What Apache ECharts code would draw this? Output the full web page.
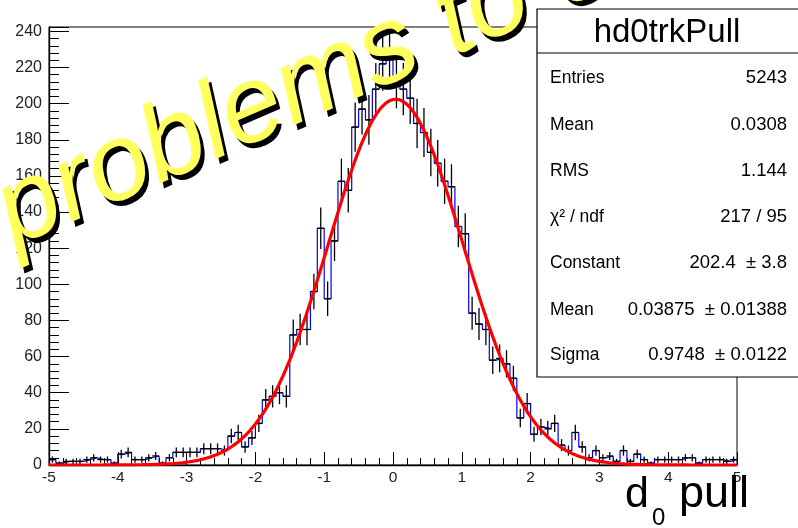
<!DOCTYPE html>
<html><head><meta charset="utf-8">
<script src="https://cdn.jsdelivr.net/npm/echarts@6/dist/echarts.min.js"></script>
<style>html,body{margin:0;padding:0;background:#fff}#c{width:798px;height:528px}</style>
</head><body><div id="c"></div>
<script>
// ---- data ----
const xMin = -5, xMax = 5, binWidth = 0.1;
const counts = [
  3,1,2,2,2,3,4,3,3,1,
  6,7,3,3,4,5,1,4,7,7,
  7,7,9,9,9,8,16,18,10,15,
  23,36,38,40,38,72,75,75,96,131,
  92,124,157,152,187,197,191,208,222,226,
  212,208,203,189,184,173,167,157,154,132,
  128,84,78,75,58,59,56,48,26,34,
  17,21,20,23,11,8,18,10,4,8,
  4,5,2,8,2,6,3,1,3,3,
  3,3,4,4,1,3,3,3,2,3
];
const xTickLabels = [-5,-4,-3,-2,-1,0,1,2,3,4,5];
const yTickLabels = [0,20,40,60,80,100,120,140,160,180,200,220,240];
const yMax = 242.4;
const fitConstant = 202.4, fitMean = 0.03875, fitSigma = 0.9748;
const statsTitle = 'hd0trkPull';
const statsLabels = ['Entries','Mean','RMS','\u03C7\u00B2 / ndf','Constant','Mean','Sigma'];
const statsValues = ['5243','0.0308','1.144','217 / 95','202.4  \u00B1 3.8','0.03875  \u00B1 0.01388','0.9748  \u00B1 0.0122'];
const axisTitleMain = 'd', axisTitleSub = '0', axisTitleRest = 'pull';
const watermark = 'problems to c';

// ---- build ----
const stepData = [];
const barData = [];
counts.forEach((c, i) => {
  const lo = xMin + i * binWidth, hi = xMin + (i + 1) * binWidth;
  stepData.push([lo, c], [hi, c]);
  barData.push([lo, hi, c]);
});
const fitData = [];
for (let k = 0; k <= 500; k++) {
  const x = xMin + (xMax - xMin) * k / 500;
  fitData.push([x, fitConstant * Math.exp(-0.5 * Math.pow((x - fitMean) / fitSigma, 2))]);
}

const FONT = 'Liberation Sans';
const chart = echarts.init(document.getElementById('c'), null, {renderer: 'canvas'});

const txt = (x, y, text, font, align, z) => ({type: 'text', z: z || 62, x: x, y: y,
  style: {text: text, x: 0, y: 0, font: font, fill: '#000',
    textAlign: align, textVerticalAlign: 'middle', align: align, verticalAlign: 'middle'}});

const graphics = [];
// watermark (shadow + yellow)
const wmRot = 23.5 * Math.PI / 180;
const wmX = 2, wmY = 219;
[['#000', 4, 5], ['#ffff5e', 0, 0]].forEach(([col, dx, dy]) => {
  graphics.push({type: 'text', x: wmX + dx, y: wmY + dy, rotation: wmRot, z: 50,
    style: {text: watermark, x: 0, y: 0, font: 'italic 109px ' + FONT, fill: col,
      textAlign: 'left', textVerticalAlign: 'middle', align: 'left', verticalAlign: 'middle'}});
});
// stats box
const boxL = 537, boxT = 9, boxB = 377, boxR = 810;
graphics.push({type: 'rect', z: 60, shape: {x: boxL, y: boxT, width: boxR - boxL, height: boxB - boxT},
  style: {fill: '#fff', stroke: '#000', lineWidth: 1.2}});
graphics.push({type: 'line', z: 61, shape: {x1: boxL, y1: 53, x2: boxR, y2: 53}, style: {stroke: '#000', lineWidth: 1.2}});
graphics.push(txt(667, 33, statsTitle, '33px ' + FONT, 'center'));
const rowY = [78, 125, 171, 217, 263, 310, 355];
statsLabels.forEach((t, i) => {
  graphics.push(txt(550, rowY[i], t, '17.5px ' + FONT, 'left'));
  graphics.push(txt(787, rowY[i], statsValues[i], '18.5px ' + FONT, 'right'));
});
// axis title
graphics.push(txt(625, 495, axisTitleMain, '43px ' + FONT, 'left'));
graphics.push(txt(652, 518, axisTitleSub, '24px ' + FONT, 'left'));
graphics.push(txt(679, 495, axisTitleRest, '45px ' + FONT, 'left'));

const option = {
  animation: false,
  backgroundColor: '#fff',
  grid: {left: 49, right: 61, top: 27, bottom: 63, show: true, borderColor: '#000', borderWidth: 1, backgroundColor: 'transparent'},
  xAxis: {type: 'value', min: xMin, max: xMax, interval: 1,
    axisLine: {onZero: false, lineStyle: {color: '#000', width: 1.3}},
    axisTick: {inside: true, length: 13, lineStyle: {color: '#000', width: 1}},
    minorTick: {show: true, splitNumber: 5, length: 7, lineStyle: {color: '#000', width: 1}},
    splitLine: {show: false},
    axisLabel: {fontSize: 15.5, fontFamily: FONT, color: '#222', margin: 5,
      formatter: v => xTickLabels.indexOf(Math.round(v)) >= 0 && Math.abs(v - Math.round(v)) < 1e-6 ? String(Math.round(v)) : ''}
  },
  yAxis: [
    {type: 'value', min: 0, max: yMax, interval: 20, position: 'left',
      axisLine: {show: true, onZero: false, lineStyle: {color: '#000', width: 1.3}},
      axisTick: {show: true, inside: true, length: 20, lineStyle: {color: '#000', width: 1}},
      splitLine: {show: false},
      axisLabel: {fontSize: 16, fontFamily: FONT, color: '#222', margin: 7,
        formatter: v => yTickLabels.indexOf(v) >= 0 ? String(v) : ''}
    },
    {type: 'value', min: 0, max: yMax, interval: 4, position: 'left', offset: 0,
      axisLine: {show: false, onZero: false},
      axisTick: {show: true, inside: true, length: 10, lineStyle: {color: '#000', width: 1}},
      splitLine: {show: false}, axisLabel: {show: false}
    }
  ],
  series: [
    {type: 'line', data: stepData, showSymbol: false, symbol: 'none', z: 3,
      lineStyle: {color: '#0000ee', width: 1.2}, silent: true},
    {type: 'custom', data: barData, z: 4, silent: true,
      renderItem: (params, api) => {
        const lo = api.value(0), hi = api.value(1), v = api.value(2);
        const e = Math.sqrt(v);
        const a = api.coord([lo, v]), b = api.coord([hi, v]);
        const t = api.coord([(lo + hi) / 2, v + e]), d = api.coord([(lo + hi) / 2, Math.max(0, v - e)]);
        return {type: 'group', children: [
          {type: 'line', shape: {x1: a[0], y1: a[1], x2: b[0], y2: b[1]}, style: {stroke: '#000', lineWidth: 1.3}},
          {type: 'line', shape: {x1: t[0], y1: t[1], x2: d[0], y2: d[1]}, style: {stroke: '#000', lineWidth: 1.3}}
        ]};
      }},
    {type: 'line', data: fitData, showSymbol: false, symbol: 'none', z: 5, smooth: false,
      lineStyle: {color: '#ff0000', width: 3.2}, silent: true}
  ],
  graphic: graphics
};
chart.setOption(option);
</script></body></html>
